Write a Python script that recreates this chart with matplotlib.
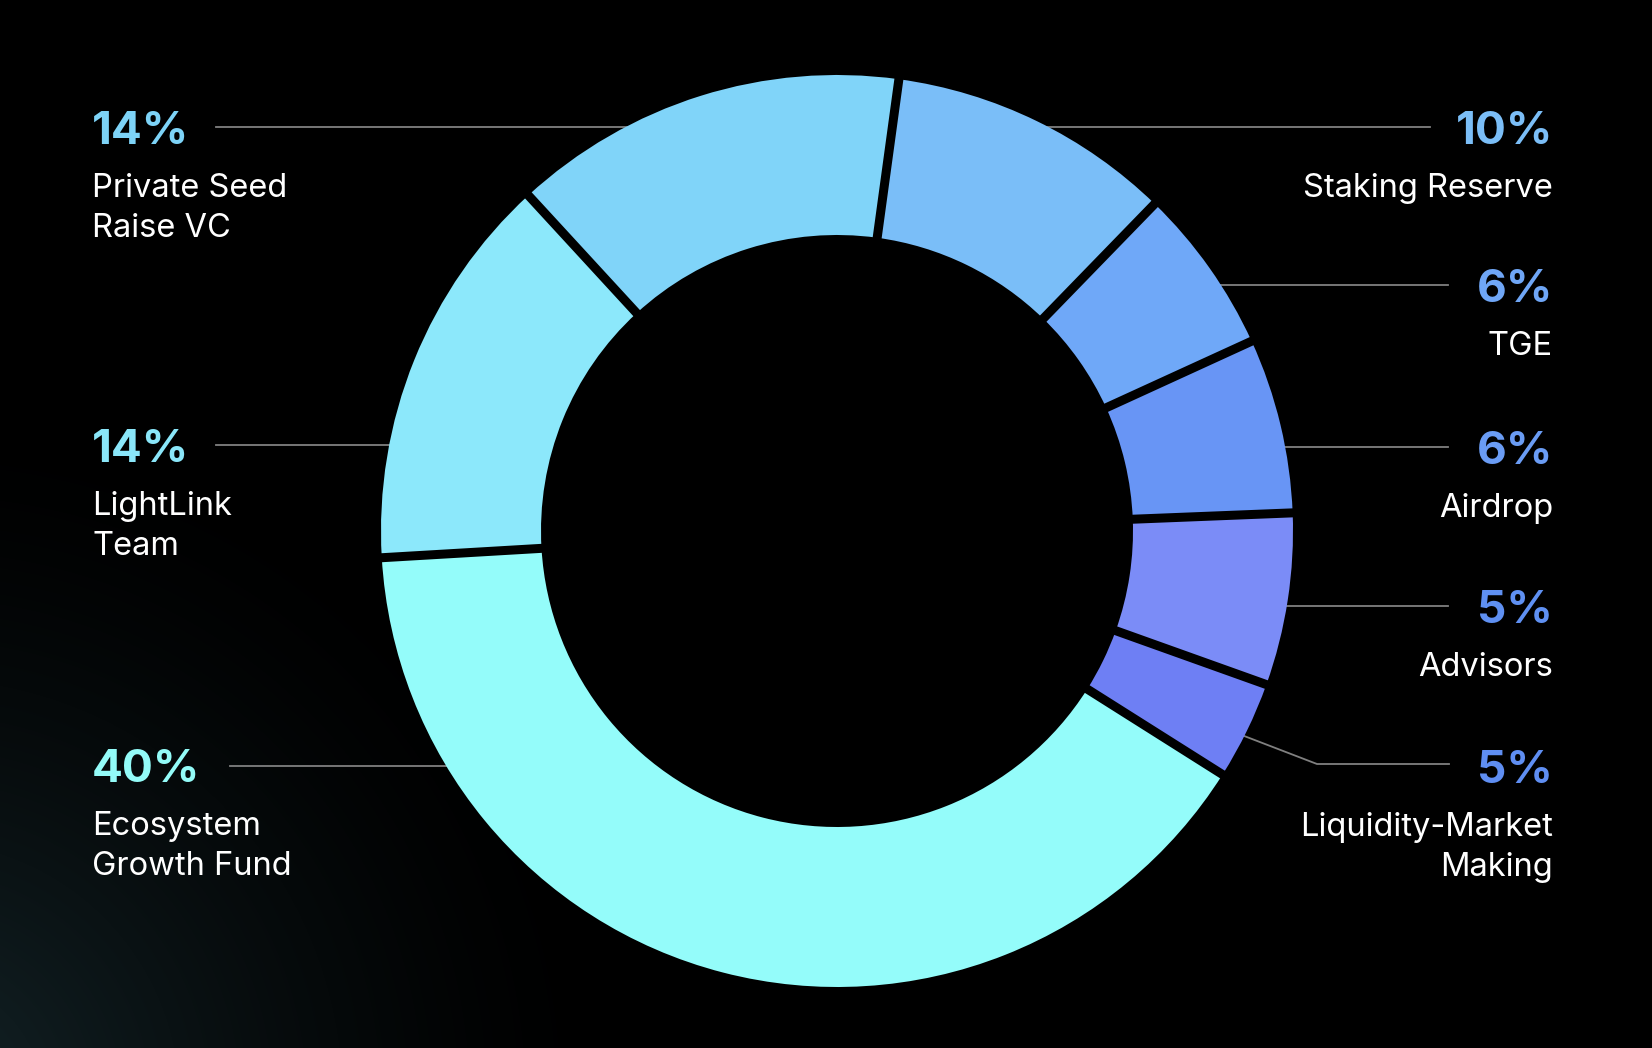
import numpy as np
import matplotlib.pyplot as plt

W, H = 1652, 1048

# slices, clockwise from the top (Staking Reserve first)
labels = ['Staking Reserve', 'TGE', 'Airdrop', 'Advisors', 'Liquidity-Market\nMaking',
          'Ecosystem\nGrowth Fund', 'LightLink\nTeam', 'Private Seed\nRaise VC']
pct_text = ['10%', '6%', '6%', '5%', '5%', '40%', '14%', '14%']
# arc sizes as drawn in the picture (not exactly the printed %)
shares = [10.1, 5.9, 6.2, 6.1, 3.5, 40.1, 14.1, 14.0]
colors = ['#7abef8', '#6fa8f8', '#6895f5', '#7b8cf7', '#6e7ff4', '#94fcfa', '#8ce8fb', '#80d4f9']
pct_colors = ['#7bbef7', '#6fa6f6', '#6a9cf4', '#5f90f2', '#5f8ef2', '#93fbf8', '#8ae6f9', '#7dd3f7']

# text anchor x, baseline of the % text, leader line points (image pixels, y down)
layout = [
    (1553, 144, [(1000, 127), (1430, 127)]),
    (1553, 302, [(1120, 285), (1448, 285)]),
    (1553, 464, [(1200, 447), (1448, 447)]),
    (1553, 623, [(1200, 606), (1448, 606)]),
    (1553, 783, [(1200, 719), (1317, 764), (1449, 764)]),
    (92, 782, [(230, 766), (520, 766)]),
    (92, 462, [(216, 445), (450, 445)]),
    (92, 144, [(216, 127), (700, 127)]),
]

plt.rcParams['font.family'] = ['Inter', 'DejaVu Sans']

fig = plt.figure(figsize=(W / 100, H / 100), dpi=100)
fig.patch.set_facecolor('black')

# background: faint teal glow from the bottom-left corner
bg = fig.add_axes([0, 0, 1, 1], zorder=0)
yy, xx = np.mgrid[0:H, 0:W]
d = np.hypot(xx + 80, yy - 1100)
glow = np.clip(1 - d / 700, 0, 1) ** 1.5
img = np.dstack([glow * 20, glow * 36, glow * 40]) / 255
bg.imshow(img, extent=(0, W, H, 0), aspect='auto')
bg.set_xlim(0, W)
bg.set_ylim(H, 0)
bg.axis('off')

# labels and leader lines
ax = fig.add_axes([0, 0, 1, 1], zorder=1)
ax.set_xlim(0, W)
ax.set_ylim(H, 0)
ax.axis('off')
ax.patch.set_alpha(0)

for lab, pct, pc, (x, yb, pts) in zip(labels, pct_text, pct_colors, layout):
    ha = 'right' if x > W / 2 else 'left'
    ax.text(x, yb, pct, color=pc, fontsize=33, fontweight='bold', ha=ha, va='baseline')
    for i, line in enumerate(lab.split('\n')):
        ax.text(x, yb + 53 + 40 * i, line, color='white', fontsize=23.5, ha=ha, va='baseline')
    px, py = zip(*pts)
    ax.plot(px, py, color='#808080', lw=1.3)

# donut
cx, cy, r_out, r_in, gap = 837, 531, 456, 296, 9
start = 82.2
pax = fig.add_axes([(cx - 500) / W, (H - cy - 500) / H, 1000 / W, 1000 / H], zorder=2)
pax.pie(shares, colors=colors, startangle=start, counterclock=False, radius=r_out,
        wedgeprops=dict(width=r_out - r_in, linewidth=0))

# black gaps between the slices
bounds = start - 360 * np.cumsum([0] + shares[:-1]) / sum(shares)
for a in np.radians(bounds):
    rr = np.array([r_in - 6, r_out + 6])
    pax.plot(rr * np.cos(a), rr * np.sin(a), color='black', lw=gap * 0.72,
             solid_capstyle='butt')

pax.set_xlim(-500, 500)
pax.set_ylim(-500, 500)
pax.set_aspect('equal')
pax.axis('off')

fig.savefig('out.png', dpi=100, facecolor='black')
